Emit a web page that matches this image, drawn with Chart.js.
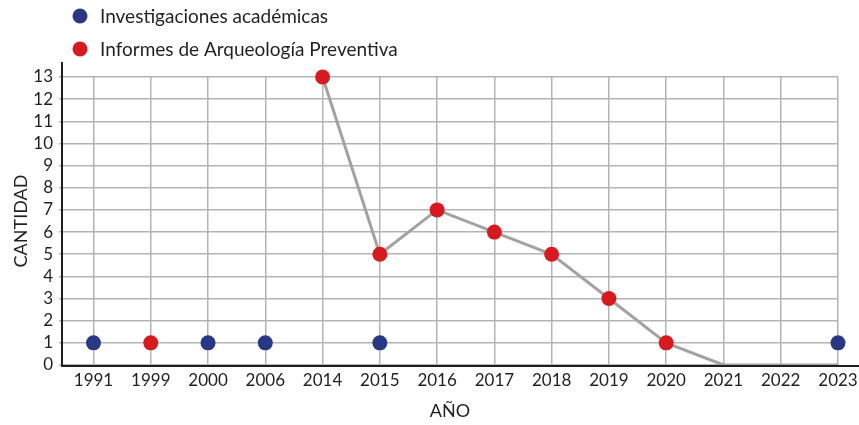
<!DOCTYPE html>
<html>
<head>
<meta charset="utf-8">
<script src="https://cdn.jsdelivr.net/npm/chart.js@4/dist/chart.umd.min.js"></script>
<style>
  html, body { margin: 0; padding: 0; background: #ffffff; }
  canvas { display: block; }
</style>
</head>
<body>
<canvas id="chart" width="859" height="425"></canvas>
<script>
// Years shown on the horizontal axis
const years = ['1991', '1999', '2000', '2006', '2014', '2015', '2016', '2017', '2018', '2019', '2020', '2021', '2022', '2023'];

// Academic research per year (null = none)
const academicas = [1, null, 1, 1, null, 1, null, null, null, null, null, null, null, 1];

// Preventive archaeology reports per year (null = no mark)
const preventiva = [null, 1, null, null, 13, 5, 7, 6, 5, 3, 1, 0, 0, 0];

const seriesNames = ['Investigaciones académicas', 'Informes de Arqueología Preventiva'];
const yTicks = [0, 1, 2, 3, 4, 5, 6, 7, 8, 9, 10, 11, 12, 13];

const BLUE = '#283885';
const RED = '#d71920';
const TEXT = '#231f20';
const FONT = 'Lato, "Open Sans", sans-serif';

const toPoints = arr => arr.map((v, i) => ({ x: i, y: v }));

// Axis lines and legend drawn on top of the chart area
const decorations = {
  id: 'decorations',
  afterDraw(chart) {
    const { ctx, chartArea } = chart;
    ctx.save();
    ctx.strokeStyle = '#1e1e1e';
    ctx.lineWidth = 2;
    ctx.beginPath();
    ctx.moveTo(chartArea.left, chartArea.top - 15);
    ctx.lineTo(chartArea.left, chartArea.bottom + 1);
    ctx.lineTo(chart.width, chartArea.bottom + 1);
    ctx.stroke();

    const colors = [BLUE, RED];
    ctx.font = '19px ' + FONT;
    ctx.textBaseline = 'middle';
    chart.data.datasets.forEach((ds, i) => {
      const y = 16 + i * 33;
      ctx.beginPath();
      ctx.arc(80, y, 7.5, 0, Math.PI * 2);
      ctx.fillStyle = colors[i];
      ctx.fill();
      ctx.fillStyle = TEXT;
      ctx.fillText(ds.label, 100, y + 1);
    });
    ctx.restore();
  }
};

new Chart(document.getElementById('chart'), {
  type: 'line',
  data: {
    datasets: [
      {
        label: seriesNames[0],
        data: toPoints(academicas),
        showLine: false,
        clip: false,
        pointRadius: 7.5,
        pointHoverRadius: 7.5,
        pointBackgroundColor: BLUE,
        pointBorderWidth: 0,
        order: 1
      },
      {
        label: seriesNames[1],
        data: toPoints(preventiva),
        clip: false,
        borderColor: '#a2a2a2',
        borderWidth: 3,
        spanGaps: false,
        tension: 0,
        pointRadius: ctx => (ctx.raw && ctx.raw.y === 0 ? 0 : 7.5),
        pointHoverRadius: ctx => (ctx.raw && ctx.raw.y === 0 ? 0 : 7.5),
        pointBackgroundColor: RED,
        pointBorderWidth: 0,
        order: 2
      }
    ]
  },
  options: {
    responsive: false,
    animation: false,
    events: [],
    layout: { padding: { top: 77, right: 21, left: 0, bottom: 0 } },
    plugins: {
      legend: { display: false },
      tooltip: { enabled: false }
    },
    scales: {
      x: {
        type: 'linear',
        min: -0.55,
        max: years.length - 1,
        afterBuildTicks: scale => { scale.ticks = years.map((_, i) => ({ value: i })); },
        afterFit: scale => {
          scale.height = 60;
          scale.paddingLeft = 0;
          scale.paddingRight = 0;
        },
        ticks: {
          autoSkip: false,
          maxRotation: 0,
          padding: 5,
          color: TEXT,
          font: { family: FONT, size: 17 },
          callback: v => years[v]
        },
        grid: { color: '#b3b3b3', lineWidth: 1.5, drawTicks: false },
        border: { display: false },
        title: {
          display: true,
          text: 'AÑO',
          color: TEXT,
          font: { family: FONT, size: 18 },
          padding: { top: 0, bottom: 3 }
        }
      },
      y: {
        min: 0,
        max: 13,
        afterBuildTicks: scale => { scale.ticks = yTicks.map(v => ({ value: v })); },
        afterFit: scale => { scale.width = 62; },
        ticks: {
          autoSkip: false,
          padding: 6,
          color: TEXT,
          font: { family: FONT, size: 17 }
        },
        grid: { color: '#b3b3b3', lineWidth: 1.5, tickLength: 3 },
        border: { display: false },
        title: {
          display: true,
          text: 'CANTIDAD',
          color: TEXT,
          font: { family: FONT, size: 18 },
          padding: { top: 10, bottom: 0 }
        }
      }
    }
  },
  plugins: [decorations]
});
</script>
</body>
</html>
